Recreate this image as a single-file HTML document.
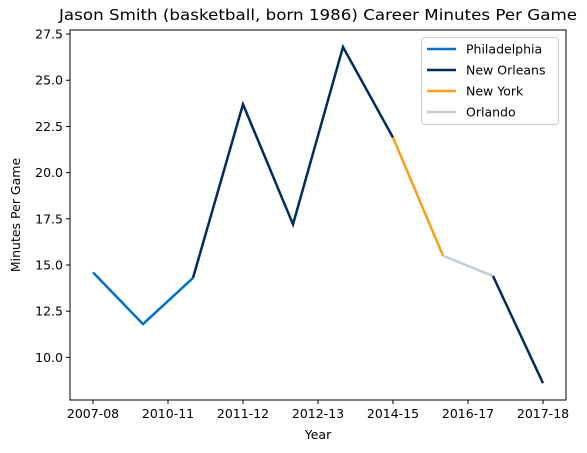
<!DOCTYPE html>
<html><head><meta charset="utf-8"><style>
html,body{margin:0;padding:0;background:#fff;}
svg{display:block;font-family:"DejaVu Sans","Liberation Sans",sans-serif;}
</style></head><body>
<svg id="chart" width="587" height="453" xmlns="http://www.w3.org/2000/svg">
<rect width="587" height="453" fill="#fff"/>
<text x="318" y="20" font-size="15.5" text-anchor="middle" textLength="518" lengthAdjust="spacingAndGlyphs">Jason Smith (basketball, born 1986) Career Minutes Per Game</text>
<g id="grid"></g>
<g id="lines"></g>
<rect x="70" y="30" width="496" height="370" fill="none" stroke="#000" stroke-width="1"/>
<text x="318" y="439" font-size="12.5" text-anchor="middle">Year</text>
<text transform="translate(20,215) rotate(-90)" font-size="12.5" text-anchor="middle">Minutes Per Game</text>
<g id="legend"></g>
</svg>
<script>
const values = [14.6, 11.8, 14.3, 23.7, 17.2, 26.8, 21.9, 15.5, 14.4, 8.6];
const xTickPositions = [0, 1.5, 3, 4.5, 6, 7.5, 9];
const xTickLabels = ["2007-08","2010-11","2011-12","2012-13","2014-15","2016-17","2017-18"];
const yTicks = [10.0, 12.5, 15.0, 17.5, 20.0, 22.5, 25.0, 27.5];
const teams = ["Philadelphia","New Orleans","New York","Orlando"];
const teamColors = ["#0072c6","#002b5c","#f5a01a","#c4ced4"];
const segTeam = [0, 1, 2, 3, 1];
const segStart = [0, 2, 6, 7, 8];
const segEnd = [2, 6, 7, 8, 9];

const L=70,R=566,T=30,B=400;
const xMin=-0.46,xMax=9.46,yMin=7.69,yMax=27.72;
const xs=v=>L+(v-xMin)/(xMax-xMin)*(R-L);
const ys=v=>B-(v-yMin)/(yMax-yMin)*(B-T);
const NS="http://www.w3.org/2000/svg";
function mk(tag,attrs,parent){const e=document.createElementNS(NS,tag);for(const k in attrs)e.setAttribute(k,attrs[k]);parent.appendChild(e);return e;}
const g=document.getElementById('grid');
xTickPositions.forEach((p,i)=>{
  const x=xs(p);
  const t=mk('line',{x1:x,x2:x,y1:B,y2:B+4,stroke:'#000'},g);
  
  
  const tx=mk('text',{x:x,y:B+18,'font-size':12.5,'text-anchor':'middle'},g);
  tx.textContent=xTickLabels[i];
  
  
});
yTicks.forEach(v=>{
  const y=ys(v);
  const t=mk('line',{x1:L-4,x2:L,y1:y,y2:y,stroke:'#000'},g);
  
  
  const tx=mk('text',{x:L-7,y:y+4.5,'font-size':12.5,'text-anchor':'end'},g);
  tx.textContent=v.toFixed(1);
  
  
});
const lg=document.getElementById('lines');
segStart.forEach((s,i)=>{
  let pts=[];
  for(let k=s;k<=segEnd[i];k++)pts.push(xs(k)+','+ys(values[k]));
  const pl=mk('polyline',{points:pts.join(' '),fill:'none',stroke:teamColors[segTeam[i]],'stroke-width':2.5,'stroke-linejoin':'miter'},lg);
  
  
});
const leg=document.getElementById('legend');
const box=mk('rect',{x:421.5,y:37.5,width:137,height:87,rx:3,fill:'#fff','fill-opacity':0.8,stroke:'#ccc'},leg);


teams.forEach((t,i)=>{
  const y=49+i*21;
  const ln=mk('line',{x1:427,x2:456,y1:y,y2:y,stroke:teamColors[i],'stroke-width':2.5},leg);
  
  
  const tx=mk('text',{x:466,y:y+4.5,'font-size':12.5},leg);
  tx.textContent=t;
  
  
});
</script>
</body></html>
